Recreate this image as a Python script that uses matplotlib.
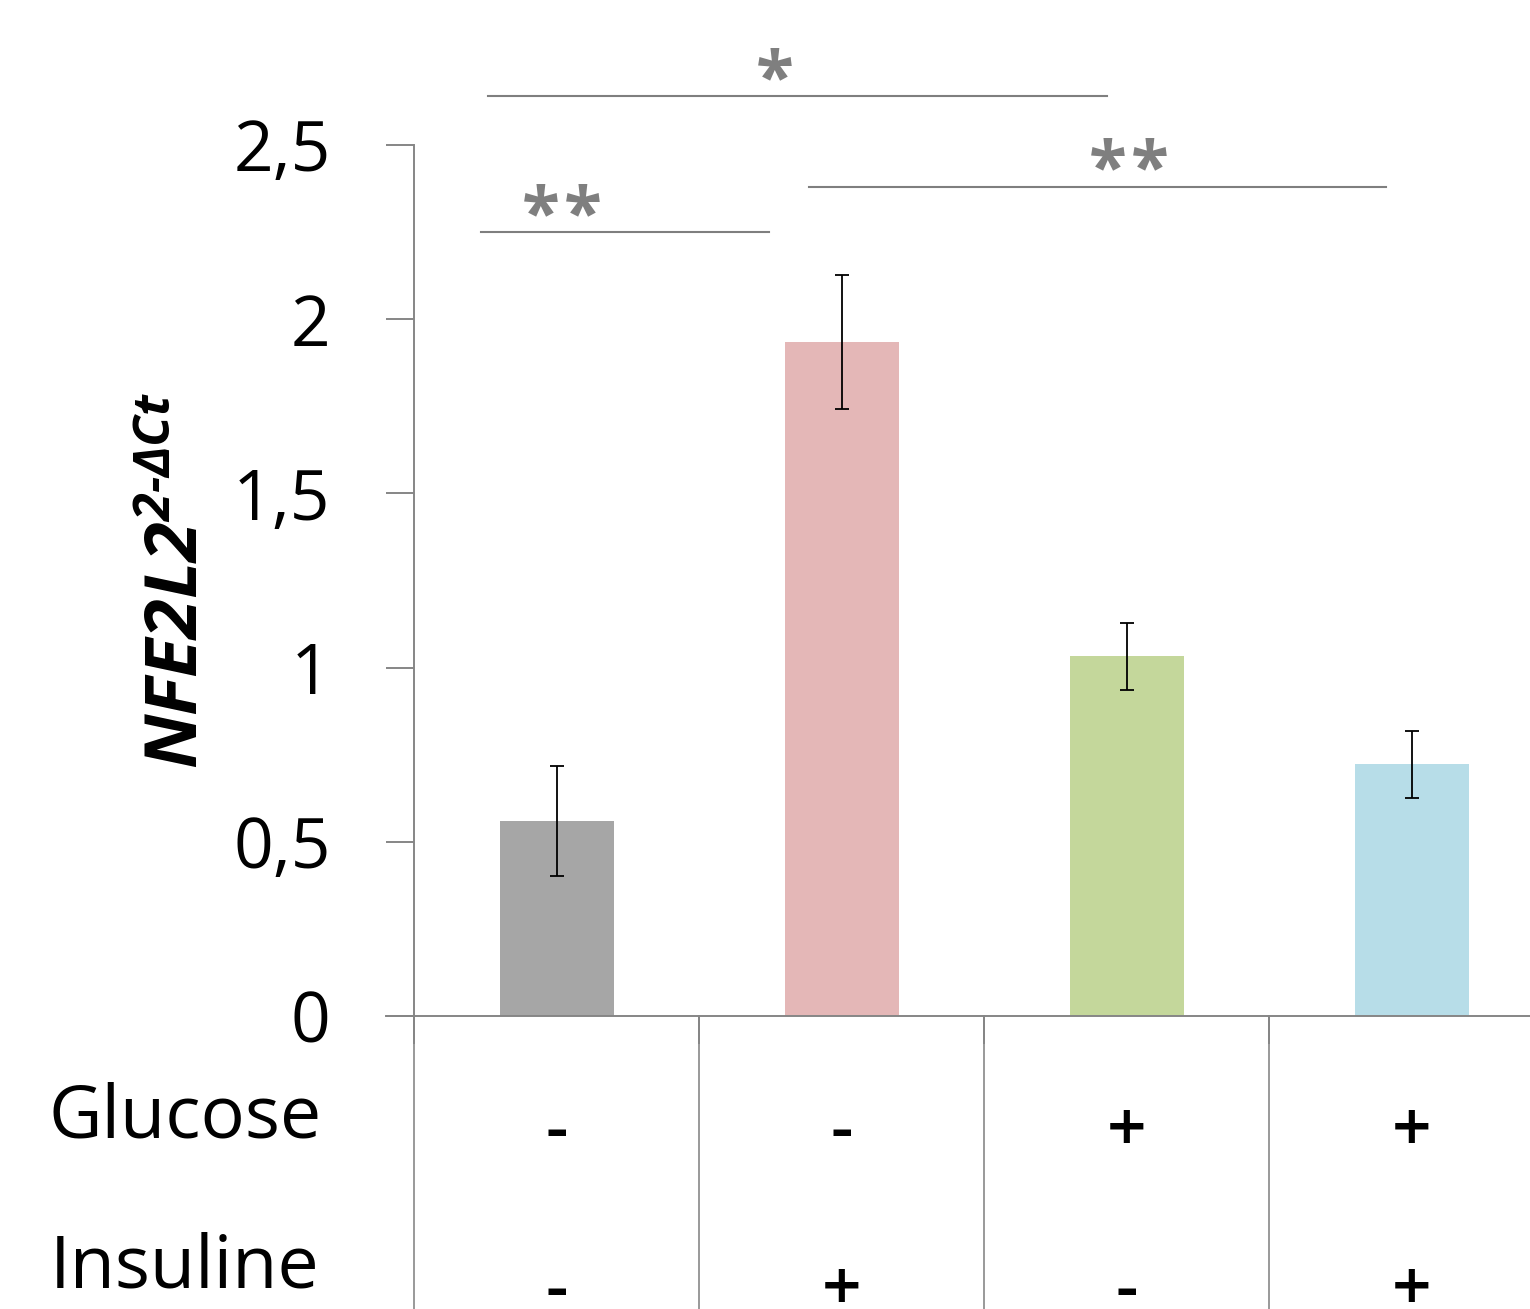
import matplotlib
matplotlib.use('Agg')
import matplotlib.pyplot as plt
import numpy as np

# données
conditions = ['G-/I-', 'G-/I+', 'G+/I-', 'G+/I+']
values = [0.56, 1.935, 1.032, 0.722]
errors = [0.157, 0.193, 0.097, 0.095]
bar_colors = ['#a6a6a6', '#e4b7b7', '#c4d79b', '#b7dde8']
glucose = ['-', '-', '+', '+']
insuline = ['-', '+', '-', '+']
# comparaisons: hauteur du trait et nombre d'étoiles
sig_heights = [2.25, 2.64, 2.38]
sig_stars = [2, 1, 2]
yticks = [0, 0.5, 1, 1.5, 2, 2.5]
ytick_labels = ['0', '0,5', '1', '1,5', '2', '2,5']

# mise en page des traits de significativité (x début, x fin, x label)
sig_layout = [(0.235, 1.246, 0.519), (0.26, 2.43, 1.267), (1.386, 3.41, 2.509)]

plt.rcParams['font.family'] = ['Open Sans', 'DejaVu Sans']
plt.rcParams['mathtext.fontset'] = 'custom'
plt.rcParams['mathtext.it'] = 'Open Sans:italic:bold'
plt.rcParams['mathtext.rm'] = 'Open Sans:italic:bold'

W, H = 1530, 1309
fig = plt.figure(figsize=(W / 100, H / 100), dpi=100)
ax = fig.add_axes([414 / W, 1 - 1016 / H, (1554 - 414) / W, (1016 - 145) / H])

axis_col = '#868686'
x = np.arange(len(values)) + 0.5
ax.bar(x, values, width=0.4, color=bar_colors, zorder=2)
ax.errorbar(x, values, yerr=errors, fmt='none', ecolor='black',
            elinewidth=1.3, capsize=5, capthick=1.3, zorder=3)

ax.set_xlim(0, 4)
ax.set_ylim(0, 2.5)
ax.set_yticks(yticks)
ax.set_yticklabels(ytick_labels, fontsize=50)
ax.set_xticks([0, 1, 2, 3, 4])
ax.set_xticklabels([])
ax.tick_params(axis='y', length=20, width=1.4, color=axis_col, pad=40)
ax.tick_params(axis='x', length=20, width=1.4, color=axis_col)
for s in ['top', 'right']:
    ax.spines[s].set_visible(False)
for s in ['left', 'bottom']:
    ax.spines[s].set_color(axis_col)
    ax.spines[s].set_linewidth(1.4)
ax.spines['bottom'].set_bounds(-0.1, 4)

ax.set_ylabel(r'$\mathit{NFE2L2}^{\mathit{2{\text{-}}\Delta Ct}}$', fontsize=52,
              labelpad=13)

# lignes du tableau sous l'axe
trans = ax.get_xaxis_transform()
for b in range(4):
    ax.plot([b, b], [0, -0.337], color='#999999', lw=1.4, transform=trans,
            clip_on=False, zorder=1)

# tableau glucose / insuline
ax.text(-0.804, -0.140, 'Glucose', fontsize=53, ha='center', va='baseline',
        transform=trans)
ax.text(-0.804, -0.312, 'Insuline', fontsize=53, ha='center', va='baseline',
        transform=trans)
for i in range(4):
    ax.text(x[i], -0.135, glucose[i], fontsize=50, fontweight='semibold',
            ha='center', va='center', transform=trans)
    ax.text(x[i], -0.318, insuline[i], fontsize=50, fontweight='semibold',
            ha='center', va='center', transform=trans)

# significativité
sig_col = '#7f7f7f'
for h, n, (x0, x1, xl) in zip(sig_heights, sig_stars, sig_layout):
    ax.plot([x0, x1], [h, h], color=sig_col, lw=1.5, clip_on=False)
    offsets = [0] if n == 1 else [-15, 15]
    for dx in offsets:
        ax.annotate('*', xy=(xl, h - 0.011), xytext=(dx, 0),
                    textcoords='offset points', fontsize=50, fontweight='bold',
                    color=sig_col, ha='center', va='baseline',
                    annotation_clip=False)

fig.savefig('out.png', dpi=100)
